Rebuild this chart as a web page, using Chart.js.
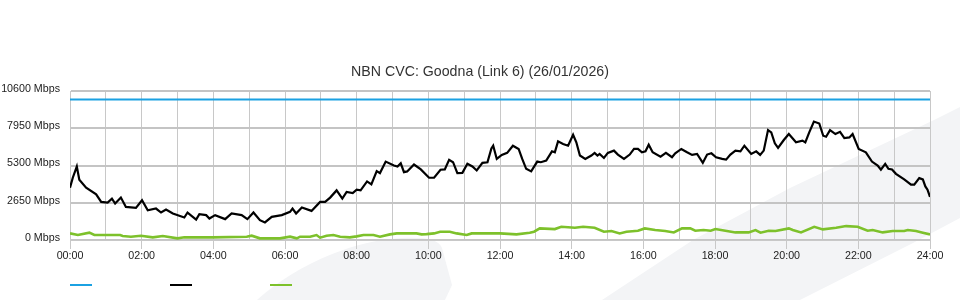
<!DOCTYPE html>
<html>
<head>
<meta charset="utf-8">
<script src="https://cdn.jsdelivr.net/npm/chart.js@4.4.1/dist/chart.umd.min.js"></script>
<style>
  body { margin: 0; background: #fff; }
  #wrap { position: relative; width: 960px; height: 300px; }
  #bg { position: absolute; left: 0; top: 0; }
  #cvc { position: absolute; left: 0; top: 0; }
  .key { position: absolute; top: 284px; width: 22px; height: 2px; }
</style>
</head>
<body>
<div id="wrap">
  <svg id="bg" width="960" height="300">
    <path d="M602 300 L693 240 L790 188 L934 120 L960 107 L960 218 L913 243 L800 300 Z" fill="#f3f4f6"/>
    <path d="M257 300 C290 270 340 245 390 239 C420 236 438 238 442 248 L452 285 L445 300 Z" fill="#f3f4f6"/>
  </svg>
  <canvas id="cvc" width="960" height="300"></canvas>
  <div class="key" style="left:70px;background:#1ba1e2"></div>
  <div class="key" style="left:170px;background:#000"></div>
  <div class="key" style="left:270px;background:#7dc12b"></div>
</div>
<script>
var chartTitle = "NBN CVC: Goodna (Link 6) (26/01/2026)";
var yTicks = [0, 2650, 5300, 7950, 10600];

// capacity line
var capTimes = [0, 24];
var capValues = [10000, 10000];

// traffic (hours, Mbps)
var blackTimes = [0.00, 0.08, 0.19, 0.26, 0.45, 0.73, 0.87, 1.05, 1.17, 1.26, 1.42, 1.56, 1.84, 2.01, 2.17, 2.40, 2.54, 2.68, 2.87, 3.19,
  3.28, 3.52, 3.61, 3.80, 3.89, 4.05, 4.33, 4.51, 4.79, 4.95, 5.12, 5.30, 5.44, 5.63, 5.91, 6.14, 6.21, 6.31, 6.47, 6.74,
  6.98, 7.12, 7.26, 7.44, 7.60, 7.72, 7.89, 8.00, 8.11, 8.29, 8.41, 8.56, 8.65, 8.81, 9.04, 9.14, 9.23, 9.32, 9.41, 9.60,
  9.79, 10.02, 10.16, 10.34, 10.46, 10.58, 10.69, 10.81, 10.95, 11.09, 11.23, 11.35, 11.51, 11.65, 11.76, 11.81, 11.91, 12.05, 12.20, 12.36,
  12.52, 12.62, 12.73, 12.87, 13.04, 13.14, 13.29, 13.45, 13.53, 13.62, 13.76, 13.90, 14.04, 14.13, 14.23, 14.38, 14.55, 14.64, 14.72, 14.78,
  14.90, 15.01, 15.18, 15.29, 15.46, 15.62, 15.74, 15.85, 15.96, 16.06, 16.15, 16.26, 16.48, 16.63, 16.80, 16.89, 17.06, 17.22, 17.36, 17.50,
  17.66, 17.78, 17.90, 18.03, 18.20, 18.31, 18.43, 18.57, 18.71, 18.82, 19.01, 19.15, 19.26, 19.36, 19.48, 19.57, 19.67, 19.76, 19.92, 20.06,
  20.26, 20.44, 20.52, 20.63, 20.76, 20.91, 21.02, 21.10, 21.21, 21.36, 21.49, 21.61, 21.75, 21.84, 22.01, 22.21, 22.38, 22.54, 22.63, 22.75,
  22.84, 22.94, 23.05, 23.28, 23.47, 23.56, 23.70, 23.80, 23.87, 23.93, 24.00];
var blackValues = [3724, 4450, 5230, 4290, 3724, 3250, 2710, 2660, 2945, 2590, 3017, 2355, 2285, 2830, 2120, 2240, 1955, 2170, 1885, 1600,
  1955, 1460, 1840, 1770, 1530, 1770, 1485, 1885, 1770, 1485, 1955, 1413, 1250, 1650, 1770, 2000, 2240, 1885, 2310, 2070,
  2710, 2710, 3017, 3530, 2945, 3414, 3343, 3580, 3530, 4170, 3960, 4900, 4760, 5580, 5300, 5230, 5460, 4830, 4880, 5370,
  5020, 4430, 4430, 5000, 5020, 5700, 5535, 4760, 4780, 5420, 5230, 4950, 5490, 5535, 6520, 6710, 5770, 6055, 6200, 6710,
  6480, 5770, 5065, 4880, 5580, 5535, 5650, 6310, 6240, 7020, 6830, 6710, 7490, 6950, 6010, 5770, 6010, 6200, 6010, 6125,
  5840, 6200, 6360, 6080, 5770, 6080, 6480, 6480, 6240, 6310, 6780, 6240, 5935, 6200, 5890, 6170, 6480, 6240, 6055, 6125,
  5490, 6080, 6170, 5890, 5770, 5720, 6080, 6360, 6310, 6710, 6125, 6310, 6055, 6360, 7820, 7655, 6880, 6550, 7115, 7540,
  6950, 7070, 6950, 7655, 8430, 8290, 7420, 7350, 7820, 7540, 7700, 7255, 7300, 7540, 6480, 6240, 5580, 5300, 5000, 5420,
  5065, 5020, 4710, 4310, 3935, 3935, 4400, 4310, 3815, 3580, 3060];

var greenTimes = [0.00, 0.22, 0.54, 0.68, 1.40, 1.47, 1.70, 1.98, 2.31, 2.59, 3.00, 3.19, 3.98, 4.93, 5.07, 5.30, 5.86, 6.14, 6.33, 6.42,
  6.70, 6.88, 6.98, 7.16, 7.35, 7.54, 7.81, 8.00, 8.19, 8.47, 8.65, 8.93, 9.12, 9.67, 9.81, 9.95, 10.16, 10.33, 10.60, 10.79,
  11.07, 11.21, 12.00, 12.46, 12.83, 12.95, 13.11, 13.53, 13.71, 14.09, 14.32, 14.64, 14.90, 15.11, 15.34, 15.53, 15.85, 16.04, 16.33, 16.61,
  16.85, 17.08, 17.31, 17.45, 17.68, 17.88, 18.01, 18.29, 18.57, 18.94, 19.13, 19.27, 19.50, 19.69, 20.06, 20.17, 20.40, 20.77, 21.01, 21.38,
  21.66, 21.98, 22.26, 22.40, 22.68, 22.96, 23.28, 23.38, 23.61, 23.80, 24.00];
var greenValues = [470, 353, 520, 353, 353, 283, 236, 306, 190, 283, 118, 190, 190, 236, 306, 118, 118, 236, 118, 236,
  236, 353, 165, 306, 353, 236, 190, 260, 353, 353, 236, 400, 470, 470, 400, 420, 470, 590, 590, 470,
  353, 470, 470, 400, 520, 590, 825, 777, 940, 870, 940, 870, 590, 636, 470, 590, 660, 825, 707, 636,
  540, 825, 825, 660, 707, 660, 777, 660, 540, 540, 707, 520, 660, 636, 825, 707, 540, 940, 755, 870,
  990, 940, 660, 707, 540, 636, 636, 707, 636, 520, 400];

function pairs(xs, ys) {
  return xs.map(function (x, i) { return { x: x, y: ys[i] }; });
}

function hh(v) {
  return (v < 10 ? '0' : '') + v + ':00';
}

// centre the title over the whole canvas, not the padded box
var centreTitle = {
  id: 'centreTitle',
  afterLayout: function (chart) {
    var t = chart.titleBlock;
    if (t) { t.left = 0; t.right = chart.width; t.width = chart.width; }
  }
};

var font = { family: 'Liberation Sans', size: 10.7 };

var ctx = document.getElementById('cvc').getContext('2d');
var chart = new Chart(ctx, {
  type: 'line',
  data: {
    datasets: [{
      label: 'Capacity',
      data: pairs(capTimes, capValues),
      borderColor: '#1ba1e2',
      borderWidth: 2,
      pointRadius: 0
    }, {
      label: 'Traffic',
      data: pairs(blackTimes, blackValues),
      borderColor: '#000000',
      borderWidth: 2.2,
      pointRadius: 0
    }, {
      label: 'Other',
      data: pairs(greenTimes, greenValues),
      borderColor: '#7dc12b',
      borderWidth: 2.6,
      pointRadius: 0
    }]
  },
  options: {
    responsive: false,
    animation: false,
    layout: { padding: { left: 0, right: 30, top: 0, bottom: 34 } },
    plugins: {
      legend: { display: false },
      tooltip: { enabled: false },
      title: {
        display: true,
        text: chartTitle,
        color: '#333',
        font: { family: 'Liberation Sans', size: 14.2, weight: 'normal' },
        padding: { top: 64, bottom: 10 }
      }
    },
    scales: {
      x: {
        type: 'linear',
        min: 0,
        max: 24,
        afterFit: function (s) { s.height = 26; },
        grid: {
          color: '#c8c8c8',
          lineWidth: 1,
          tickLength: 9,
          tickColor: function (c) { return c.tick && c.tick.value % 2 ? 'rgba(0,0,0,0)' : '#c8c8c8'; }
        },
        border: { color: '#c8c8c8' },
        ticks: {
          stepSize: 1,
          autoSkip: false,
          maxRotation: 0,
          padding: 1,
          color: '#222',
          font: font,
          callback: function (v) { return v % 2 ? '' : hh(v); }
        }
      },
      y: {
        min: 0,
        max: 10600,
        afterFit: function (s) { s.width = 70; },
        afterBuildTicks: function (s) { s.ticks = yTicks.map(function (v) { return { value: v }; }); },
        grid: { color: '#c4c4c4', lineWidth: 2, drawTicks: false },
        border: { color: '#c8c8c8', width: 1 },
        ticks: {
          padding: 10,
          labelOffset: -2,
          color: '#222',
          font: font,
          callback: function (v) { return v + ' Mbps'; }
        }
      }
    }
  },
  plugins: [centreTitle]
});
</script>
</body>
</html>
